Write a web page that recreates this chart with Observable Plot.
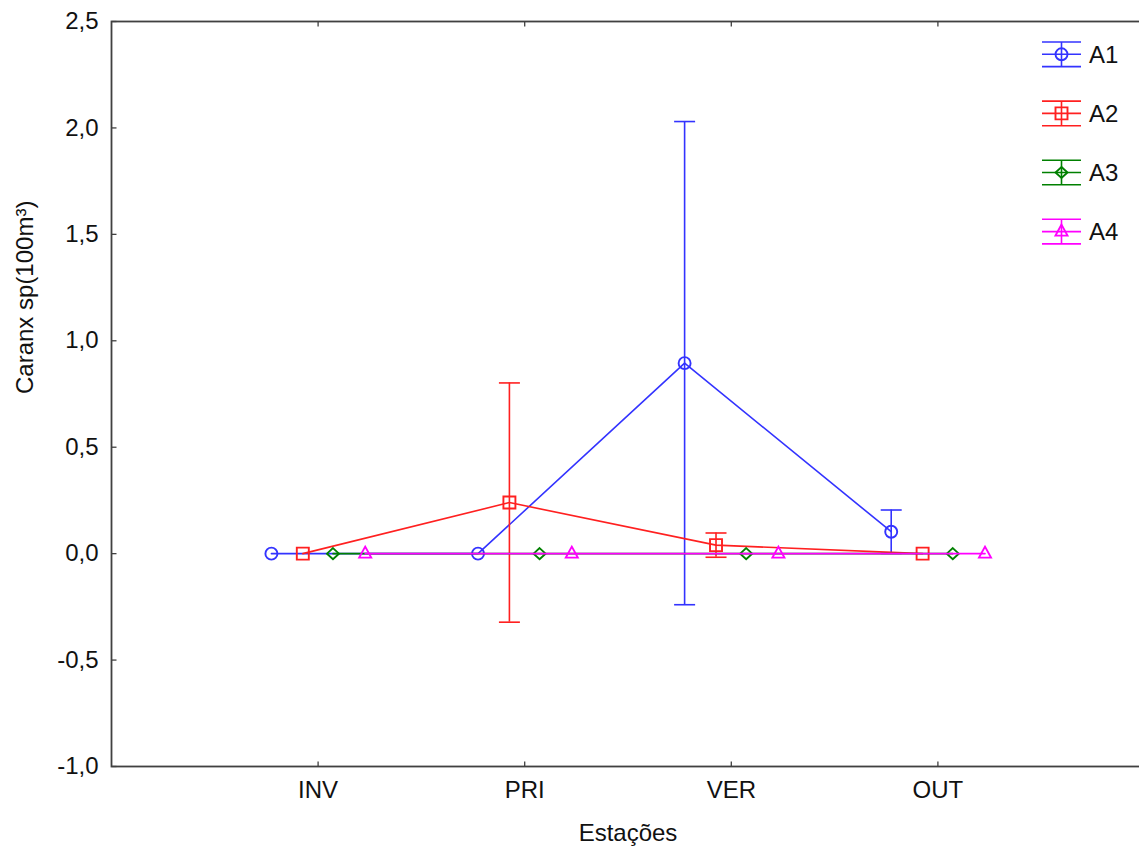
<!DOCTYPE html>
<html>
<head>
<meta charset="utf-8">
<script src="https://cdn.jsdelivr.net/npm/d3@7"></script>
<script src="https://cdn.jsdelivr.net/npm/@observablehq/plot@0.6"></script>
<style>
  html, body { margin: 0; padding: 0; background: white; }
  #wrap { position: relative; width: 1139px; height: 852px; overflow: hidden; }
  #legend { position: absolute; left: 0; top: 0; }
</style>
</head>
<body>
<div id="wrap"></div>
<script>
// ---- data ----
const seasons = ["INV", "PRI", "VER", "OUT"];
const seriesNames = ["A1", "A2", "A3", "A4"];
const A1mean = [0, 0, 0.895, 0.103];
const A1err  = [0, 0, 1.135, 0.102];
const A2mean = [0, 0.24, 0.04, 0];
const A2err  = [0, 0.562, 0.057, 0];
const A3mean = [0, 0, 0, 0];
const A3err  = [0, 0, 0, 0];
const A4mean = [0, 0, 0, 0];
const A4err  = [0, 0, 0, 0];
const yTicks = [-1, -0.5, 0, 0.5, 1, 1.5, 2, 2.5];
const yLabel = "Caranx sp(100m³)";
const xLabel = "Estações";

// ---- styles ----
const colors = ["#3333ff", "#ff2020", "#008000", "#ff00ff"];
const dodge = [-0.226, -0.074, 0.072, 0.228];
const means = [A1mean, A2mean, A3mean, A4mean];
const errs = [A1err, A2err, A3err, A4err];
const lw = 1.6, mw = 1.9;

const symbols = {
  circle: {draw(c) { c.moveTo(6, 0); c.arc(0, 0, 6, 0, 2 * Math.PI); }},
  square: {draw(c) { c.rect(-6, -6, 12, 12); }},
  diamond: {draw(c) { c.moveTo(0, -5.5); c.lineTo(6, 0); c.lineTo(0, 5.5); c.lineTo(-6, 0); c.closePath(); }},
  triangle: {draw(c) { c.moveTo(0, -7); c.lineTo(6, 4); c.lineTo(-6, 4); c.closePath(); }},
  cap: {draw(c) { c.moveTo(-10.5, 0); c.lineTo(10.5, 0); }},
  tickUp: {draw(c) { c.moveTo(0, 0); c.lineTo(0, -5); }},
  tickDown: {draw(c) { c.moveTo(0, 0); c.lineTo(0, 5); }},
  tickRight: {draw(c) { c.moveTo(0, 0); c.lineTo(5, 0); }},
  tickLeft: {draw(c) { c.moveTo(0, 0); c.lineTo(-5, 0); }}
};
const markerSym = [symbols.circle, symbols.square, symbols.diamond, symbols.triangle];

const rows = [];
seriesNames.forEach((s, si) => {
  seasons.forEach((season, i) => {
    rows.push({series: s, si, season, pos: i + 1 + dodge[si], mean: means[si][i], err: errs[si][i]});
  });
});

const fmt = d3.formatLocale({decimal: ",", thousands: ".", grouping: [3], currency: ["", ""], minus: "-"}).format(".1f");
const catIdx = seasons.map((d, i) => i + 1);
const xDomain = [0, seasons.length + 1];
const yDomain = [yTicks[0], yTicks[yTicks.length - 1]];
const axisColor = "#404040";
const font = "'Liberation Sans', Arial, sans-serif";
const textColor = "#111";

const marks = [];
seriesNames.forEach((s, si) => {
  const data = rows.filter(r => r.si === si);
  const eb = data.filter(r => r.err > 0);
  marks.push(Plot.line(data, {x: "pos", y: "mean", stroke: colors[si], strokeWidth: lw}));
  marks.push(Plot.ruleX(eb, {x: "pos", y1: r => r.mean - r.err, y2: r => r.mean + r.err, stroke: colors[si], strokeWidth: lw}));
  marks.push(Plot.dot(eb, {x: "pos", y: r => r.mean + r.err, symbol: symbols.cap, r: 5, stroke: colors[si], fill: "none", strokeWidth: lw}));
  marks.push(Plot.dot(eb, {x: "pos", y: r => r.mean - r.err, symbol: symbols.cap, r: 5, stroke: colors[si], fill: "none", strokeWidth: lw}));
  marks.push(Plot.dot(data, {x: "pos", y: "mean", symbol: markerSym[si], r: 5, stroke: colors[si], fill: "none", strokeWidth: mw}));
});

const chart = Plot.plot({
  width: 1139,
  height: 852,
  marginLeft: 111,
  marginRight: -5,
  marginTop: 21,
  marginBottom: 86,
  style: {fontFamily: font, fontSize: "24px", color: textColor, background: "white", overflow: "hidden"},
  x: {domain: xDomain, axis: null},
  y: {domain: yDomain, axis: null},
  marks: [
    Plot.axisY({ticks: yTicks, tickFormat: fmt, tickSize: 0, tickPadding: 13, label: null, fontSize: 24}),
    Plot.axisX({ticks: catIdx, tickFormat: d => seasons[d - 1], tickSize: 0, tickPadding: 14, label: null, fontSize: 24}),
    // inward ticks
    Plot.dot(catIdx, {x: d => d, y: () => yDomain[0], symbol: symbols.tickUp, r: 5, stroke: axisColor, fill: "none", strokeWidth: 1.3}),
    Plot.dot(catIdx, {x: d => d, y: () => yDomain[1], symbol: symbols.tickDown, r: 5, stroke: axisColor, fill: "none", strokeWidth: 1.3}),
    Plot.dot(yTicks, {x: () => xDomain[0], y: d => d, symbol: symbols.tickRight, r: 5, stroke: axisColor, fill: "none", strokeWidth: 1.3}),
    Plot.dot(yTicks, {x: () => xDomain[1], y: d => d, symbol: symbols.tickLeft, r: 5, stroke: "#bbb", fill: "none", strokeWidth: 1}),
    ...marks,
    Plot.frame({stroke: axisColor, strokeWidth: 1.8}),
    Plot.text([xLabel], {frameAnchor: "bottom", dy: 67, lineAnchor: "middle", fontSize: 24, fill: textColor}),
    Plot.text([yLabel], {frameAnchor: "left", dx: -86, rotate: -90, lineAnchor: "middle", fontSize: 24, fill: textColor})
  ]
});

const wrap = document.getElementById("wrap");
wrap.appendChild(chart);

// ---- legend ----
const legend = d3.select(wrap).append("svg")
  .attr("id", "legend")
  .attr("width", 1139).attr("height", 300)
  .style("font-family", font).style("font-size", "24px");
const lx0 = 1042, lx1 = 1081, ly0 = 54.3, lstep = 59.1, capH = 12.3;
seriesNames.forEach((s, si) => {
  const g = legend.append("g").attr("transform", `translate(0,${ly0 + si * lstep})`);
  [-capH, 0, capH].forEach(dy => {
    g.append("line").attr("x1", lx0).attr("x2", lx1).attr("y1", dy).attr("y2", dy)
      .attr("stroke", colors[si]).attr("stroke-width", lw);
  });
  const cx = (lx0 + lx1) / 2;
  g.append("line").attr("x1", cx).attr("x2", cx).attr("y1", -capH).attr("y2", capH)
    .attr("stroke", colors[si]).attr("stroke-width", lw);
  const p = d3.path();
  markerSym[si].draw(p);
  g.append("path").attr("d", p.toString()).attr("transform", `translate(${cx},0)`)
    .attr("fill", "none").attr("stroke", colors[si]).attr("stroke-width", mw);
  g.append("text").attr("x", 1089).attr("y", 0).attr("dy", "0.35em").attr("fill", textColor).text(s);
});
</script>
</body>
</html>
